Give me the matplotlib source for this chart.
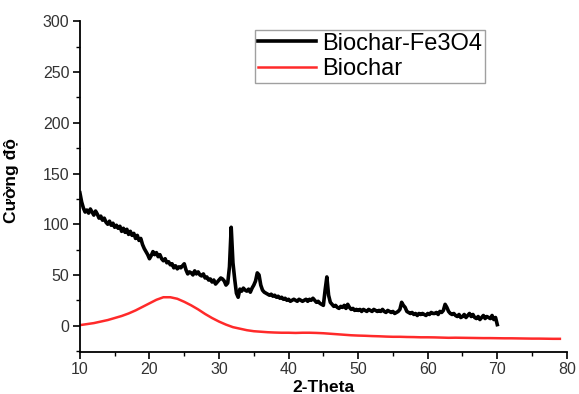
import numpy as np
import matplotlib
matplotlib.use("Agg")
import matplotlib.pyplot as plt
from matplotlib.ticker import MultipleLocator

plt.rcParams['font.family'] = ['Liberation Sans', 'DejaVu Sans']

# Biochar-Fe3O4: 2-theta from 10 to 70, step 0.25
theta_fe = np.arange(10.0, 70.01, 0.25)
inten_fe = [
    131, 122, 116, 112,  114, 111, 115, 112,  109, 113, 110, 106,  108, 104, 106, 102,
    100, 103, 99, 101,   97, 99, 96, 98,      93, 96, 92, 95,      90, 93, 89, 91,
    86, 89, 84, 86,      80, 76, 73, 70,      66, 69, 73, 70,      72, 68, 70, 66,
    64, 66, 62, 63,      60, 61, 57, 59,      56, 58, 57, 59,      61, 55, 51, 53,
    52, 50, 54, 51,      53, 50, 49, 51,      47, 48, 45, 46,      43, 45, 41, 43,
    45, 47, 46, 44,      40, 42, 58, 97,      62, 46, 32, 28,      36, 34, 37, 35,
    34, 36, 33, 37,      40, 44, 52, 50,      40, 35, 33, 32,      31, 30, 31, 29,
    30, 28, 29, 27,      28, 26, 27, 25,      26, 24, 25, 26,      25, 24, 26, 25,
    24, 25, 26, 24,      26, 25, 27, 25,      23, 24, 22, 21,      20, 35, 48, 30,
    23, 21, 19, 20,      18, 17, 19, 18,      20, 17, 21, 18,      16, 17, 15, 16,
    15, 16, 14, 16,      15, 14, 16, 15,      14, 16, 15, 14,      15, 14, 16, 14,
    13, 15, 14, 13,      14, 12, 13, 14,      16, 23, 20, 18,      14, 13, 12, 13,
    11, 12, 10, 12,      11, 12, 11, 10,      12, 11, 13, 12,      12, 13, 11, 14,
    13, 15, 21, 18,      14, 12, 11, 12,      10, 9, 11, 8,        9, 11, 8, 10,
    12, 9, 11, 8,        7, 9, 6, 8,          10, 7, 9, 8,         7, 10, 6, 8,
    1,
]

# Biochar: 2-theta from 10 to 79, step 1
theta_bc = np.arange(10, 80, 1)
inten_bc = [
    0.5, 1.5, 2.5, 4, 5.5, 7.5, 9.5, 12, 15, 18.5,
    22, 25.5, 28, 28, 26.5, 23.5, 20, 16, 11.5, 7.5,
    4, 1, -1.5, -3, -4.5, -5.5, -6, -6.5, -6.8, -7,
    -7, -7.2, -7, -7, -7.2, -7.5, -8, -8.5, -9, -9.5,
    -9.8, -10, -10.3, -10.5, -10.8, -11, -11, -11.2, -11.3, -11.5,
    -11.5, -11.6, -11.8, -12, -11.9, -12, -12.1, -12.2, -12.3, -12.3,
    -12.4, -12.5, -12.5, -12.6, -12.7, -12.8, -12.8, -12.9, -13, -13,
]

fig = plt.figure(figsize=(5.79, 3.94), dpi=100)
ax = fig.add_axes([0.138, 0.1066, 0.841, 0.839])

ax.plot(theta_fe, inten_fe, color='black', lw=2.6, label='Biochar-Fe3O4')
ax.plot(theta_bc, inten_bc, color='#ff2a2a', lw=1.8, label='Biochar')

ax.set_xlim(10, 80)
ax.set_ylim(-26, 300)
ax.xaxis.set_major_locator(MultipleLocator(10))
ax.xaxis.set_minor_locator(MultipleLocator(5))
ax.yaxis.set_major_locator(MultipleLocator(50))
ax.yaxis.set_minor_locator(MultipleLocator(25))
ax.tick_params(which='major', direction='out', length=5, width=1.2,
               labelsize=11.5, labelcolor='#333333', pad=2.5)
ax.tick_params(which='minor', direction='out', length=3, width=1.0)
for s in ['top', 'right']:
    ax.spines[s].set_visible(False)
for s in ['left', 'bottom']:
    ax.spines[s].set_linewidth(1.3)

ax.set_xlabel('2-Theta', fontsize=12.5, fontweight='bold')
ax.set_ylabel('Cường độ', fontsize=12.5, fontweight='bold')
ax.xaxis.set_label_coords(0.5, -0.085)
ax.yaxis.set_label_coords(-0.125, 0.52)

leg = ax.legend(loc='upper left', bbox_to_anchor=(0.36, 0.975), fontsize=17,
                frameon=True, fancybox=False, edgecolor='#888888',
                handlelength=2.45, handletextpad=0.25, labelspacing=0.15,
                borderpad=0.12, borderaxespad=0)
leg.get_frame().set_linewidth(1.0)

fig.savefig('out.png', dpi=100)
